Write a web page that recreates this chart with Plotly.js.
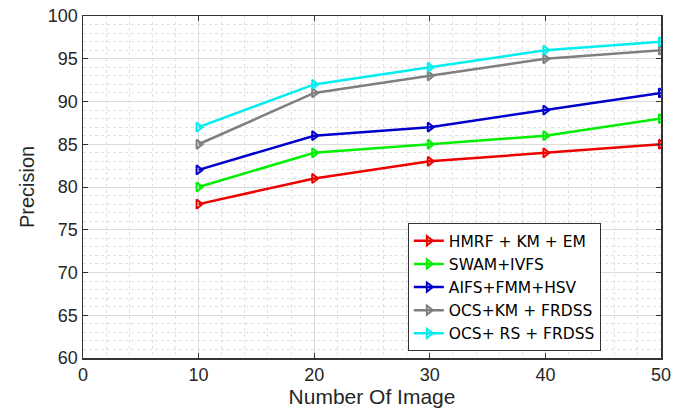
<!DOCTYPE html>
<html><head><meta charset="utf-8">
<script src="https://cdn.plot.ly/plotly-3.0.1.min.js"></script>
<style>body{margin:0;background:#fff}#c{width:676px;height:408px}</style>
</head><body><div id="c"></div>
<script>
const xVals = [10, 20, 30, 40, 50];
const seriesNames = ["HMRF + KM + EM", "SWAM+IVFS", "AIFS+FMM+HSV", "OCS+KM + FRDSS", "OCS+ RS + FRDSS"];
const hmrf = [78, 81, 83, 84, 85];
const swam = [80, 84, 85, 86, 88];
const aifs = [82, 86, 87, 89, 91];
const ocsKm = [85, 91, 93, 95, 96];
const ocsRs = [87, 92, 94, 96, 97];
const colors = ["#ee0000", "#00ee00", "#0000cc", "#7f7f7f", "#00eeee"];
const allY = [hmrf, swam, aifs, ocsKm, ocsRs];

const traces = allY.map((y, i) => ({
  x: xVals, y: y, name: seriesNames[i], type: 'scatter', mode: 'lines+markers',
  line: {color: colors[i], width: 2.5},
  marker: {symbol: 'triangle-right-open', size: 8, color: colors[i], line: {width: 2, color: colors[i]}}
}));

const layout = {
  width: 676, height: 408,
  margin: {l: 83, r: 15, t: 16, b: 50},
  paper_bgcolor: '#fff', plot_bgcolor: '#fff',
  font: {family: 'Liberation Sans, Arial, sans-serif', size: 18, color: '#262626'},
  showlegend: true,
  legend: {x: 0.562, y: 0.02, xanchor: 'left', yanchor: 'bottom', bgcolor: '#fff', bordercolor: '#333', borderwidth: 1,
    font: {family: 'DejaVu Sans, sans-serif', size: 15.5, color: '#000'}, tracegroupgap: 0},
  xaxis: {range: [0, 50], tickvals: [0, 10, 20, 30, 40, 50], showgrid: true, gridcolor: '#dcdcdc', gridwidth: 1,
    minor: {dtick: 2, showgrid: true, gridcolor: '#e0e0e0', griddash: 'dot', gridwidth: 1},
    showline: true, linecolor: '#333', linewidth: 1.5, mirror: 'ticks', ticks: 'inside', ticklen: 5, tickcolor: '#333',
    zeroline: false, title: {text: 'Number Of Image', font: {size: 21}, standoff: 4}},
  yaxis: {range: [60, 100], dtick: 5, showgrid: true, gridcolor: '#dcdcdc', gridwidth: 1,
    minor: {dtick: 1, showgrid: true, gridcolor: '#e0e0e0', griddash: 'dot', gridwidth: 1},
    showline: true, linecolor: '#333', linewidth: 1.5, mirror: 'ticks', ticks: 'inside', ticklen: 5, tickcolor: '#333',
    zeroline: false, title: {text: 'Precision', font: {size: 20}, standoff: 8}}
};
Plotly.newPlot('c', traces, layout, {displayModeBar: false, staticPlot: true});
</script></body></html>
